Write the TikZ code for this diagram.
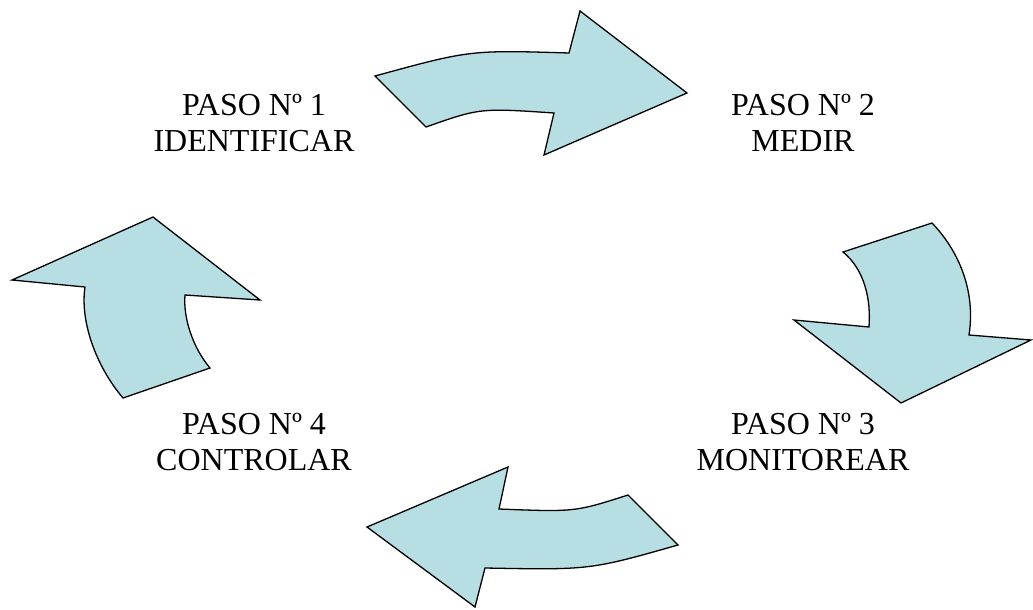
\documentclass[tikz,border=0pt]{standalone}
\usepackage{fontspec}
\setmainfont{Liberation Serif}
\definecolor{arrowfill}{RGB}{183,222,227}
\begin{document}
\begin{tikzpicture}[x=1pt,y=-1pt,
  bigarrow/.style={draw=black,line width=1.3pt,fill=arrowfill,line join=miter},
  steplabel/.style={align=center,font=\fontsize{32}{36}\selectfont,inner sep=0pt}]
\useasboundingbox (0,0) rectangle (1033,610);
% top arrow (1 -> 2)
\draw[bigarrow] (375,76) .. controls (470,50) .. (569,53) -- (580,11) -- (687,93) -- (544,155) -- (554,113) .. controls (480,108) .. (426,127) -- cycle;
% right arrow (2 -> 3)
\draw[bigarrow] (843,252) -- (932,223) .. controls (958,250) and (976,290) .. (969,335) -- (1031,340) -- (901,403) -- (794,320) -- (869,327) .. controls (871,300) and (865,270) .. (843,252) -- cycle;
% bottom arrow (3 -> 4)
\draw[bigarrow] (628,495) -- (678,545) .. controls (590,570) .. (485,568) -- (475,607) -- (367,527) -- (508,467) -- (499,509) .. controls (575,512) .. (628,495) -- cycle;
% left arrow (4 -> 1)
\draw[bigarrow] (123,398) -- (210,368) .. controls (193,348) and (183,318) .. (185,295) -- (260,300) -- (153,217) -- (12,280) -- (85,287) .. controls (80,320) and (95,365) .. (123,398) -- cycle;
% labels
\node[steplabel] (p1) at (254,123) {PASO Nº 1\\IDENTIFICAR};
\node[steplabel] (p2) at (803,123) {PASO Nº 2\\MEDIR};
\node[steplabel] (p3) at (803,442) {PASO Nº 3\\MONITOREAR};
\node[steplabel] (p4) at (254,442) {PASO Nº 4\\CONTROLAR};
\end{tikzpicture}
\end{document}
